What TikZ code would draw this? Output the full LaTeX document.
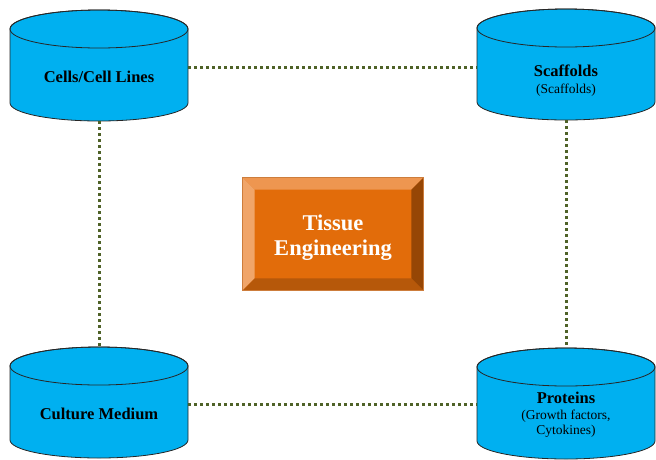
\documentclass[tikz,border=0pt]{standalone}
\usepackage{fontspec}
\setmainfont{Liberation Serif}
\usetikzlibrary{calc}
\definecolor{cyl}{RGB}{0,176,240}
\definecolor{dots}{RGB}{79,98,40}
\definecolor{face}{RGB}{226,108,10}
\definecolor{bvtop}{RGB}{238,150,80}
\definecolor{bvleft}{RGB}{240,165,105}
\definecolor{bvright}{RGB}{150,70,5}
\definecolor{bvbot}{RGB}{182,88,10}
\definecolor{rim}{RGB}{205,125,60}
\newcommand{\subtxt}[1]{{\fontsize{13.5}{16}\selectfont\mdseries #1}}

\tikzset{
  drum/.pic={
    \path[fill=cyl, draw=black!85, line width=0.8pt]
      (-89,-37) -- (-89,37) arc[start angle=180, end angle=0, x radius=89, y radius=18]
      -- (89,-37) arc[start angle=0, end angle=-180, x radius=89, y radius=19] -- cycle;
    \draw[black!85, line width=0.8pt] (0,-37) ellipse[x radius=89, y radius=19];
    \coordinate (-top) at (0,-56);
    \coordinate (-bot) at (0,55);
    \coordinate (-east) at (89,1);
    \coordinate (-west) at (-89,1);
  },
  storetext/.style={align=center, font=\fontsize{16.5}{19}\selectfont\bfseries},
  link/.style={draw=dots, line width=3pt, dash pattern=on 3pt off 3pt},
  hub/.style={fill=face, draw=rim, line width=0.6pt, minimum width=180pt, minimum height=112pt},
  hubtext/.style={text=white, align=center, font=\fontsize{22.5}{25}\selectfont\bfseries}
}

\begin{document}
\begin{tikzpicture}[x=1pt,y=-1pt]
  \useasboundingbox (0,0) rectangle (656,459);
  % the four stores
  \pic (cells) at (99,66) {drum};
  \pic (scaf) at (566,65) {drum};
  \pic (medium) at (99,403) {drum};
  \pic (prot) at (566,404) {drum};
  \node[storetext] (cellst) at (99,77) {Cells/Cell Lines};
  \node[storetext] (scaft) at (566,81) {Scaffolds\\[-2pt]\subtxt{(Scaffolds)}};
  \node[storetext] (mediumt) at (99,414) {Culture Medium};
  \node[storetext] (prott) at (566,415) {Proteins\\[-3pt]\subtxt{(Growth factors,}\\[-4pt]\subtxt{Cytokines)}};
  % the hub in the middle
  \node[hub] (te) at (333,234) {};
  \fill[bvtop] (te.north west) -- (te.north east) -- ($(te.north east)+(-12,12)$) -- ($(te.north west)+(12,12)$) -- cycle;
  \fill[bvleft] (te.north west) -- (te.south west) -- ($(te.south west)+(12,-12)$) -- ($(te.north west)+(12,12)$) -- cycle;
  \fill[bvright] (te.north east) -- (te.south east) -- ($(te.south east)+(-12,-12)$) -- ($(te.north east)+(-12,12)$) -- cycle;
  \fill[bvbot] (te.south west) -- (te.south east) -- ($(te.south east)+(-12,-12)$) -- ($(te.south west)+(12,-12)$) -- cycle;
  \draw[rim, line width=0.6pt] (te.north west) rectangle (te.south east);
  \node[hubtext] (tet) at ($(te.center)+(0,4)$) {Tissue\\Engineering};
  % dotted links
  \draw[link] (cells-east) -- (cells-east -| scaf-west);
  \draw[link] (medium-east) -- (medium-east -| prot-west);
  \draw[link] (cells-bot) -- (medium-top);
  \draw[link] (scaf-bot) -- (prot-top);
\end{tikzpicture}
\end{document}
